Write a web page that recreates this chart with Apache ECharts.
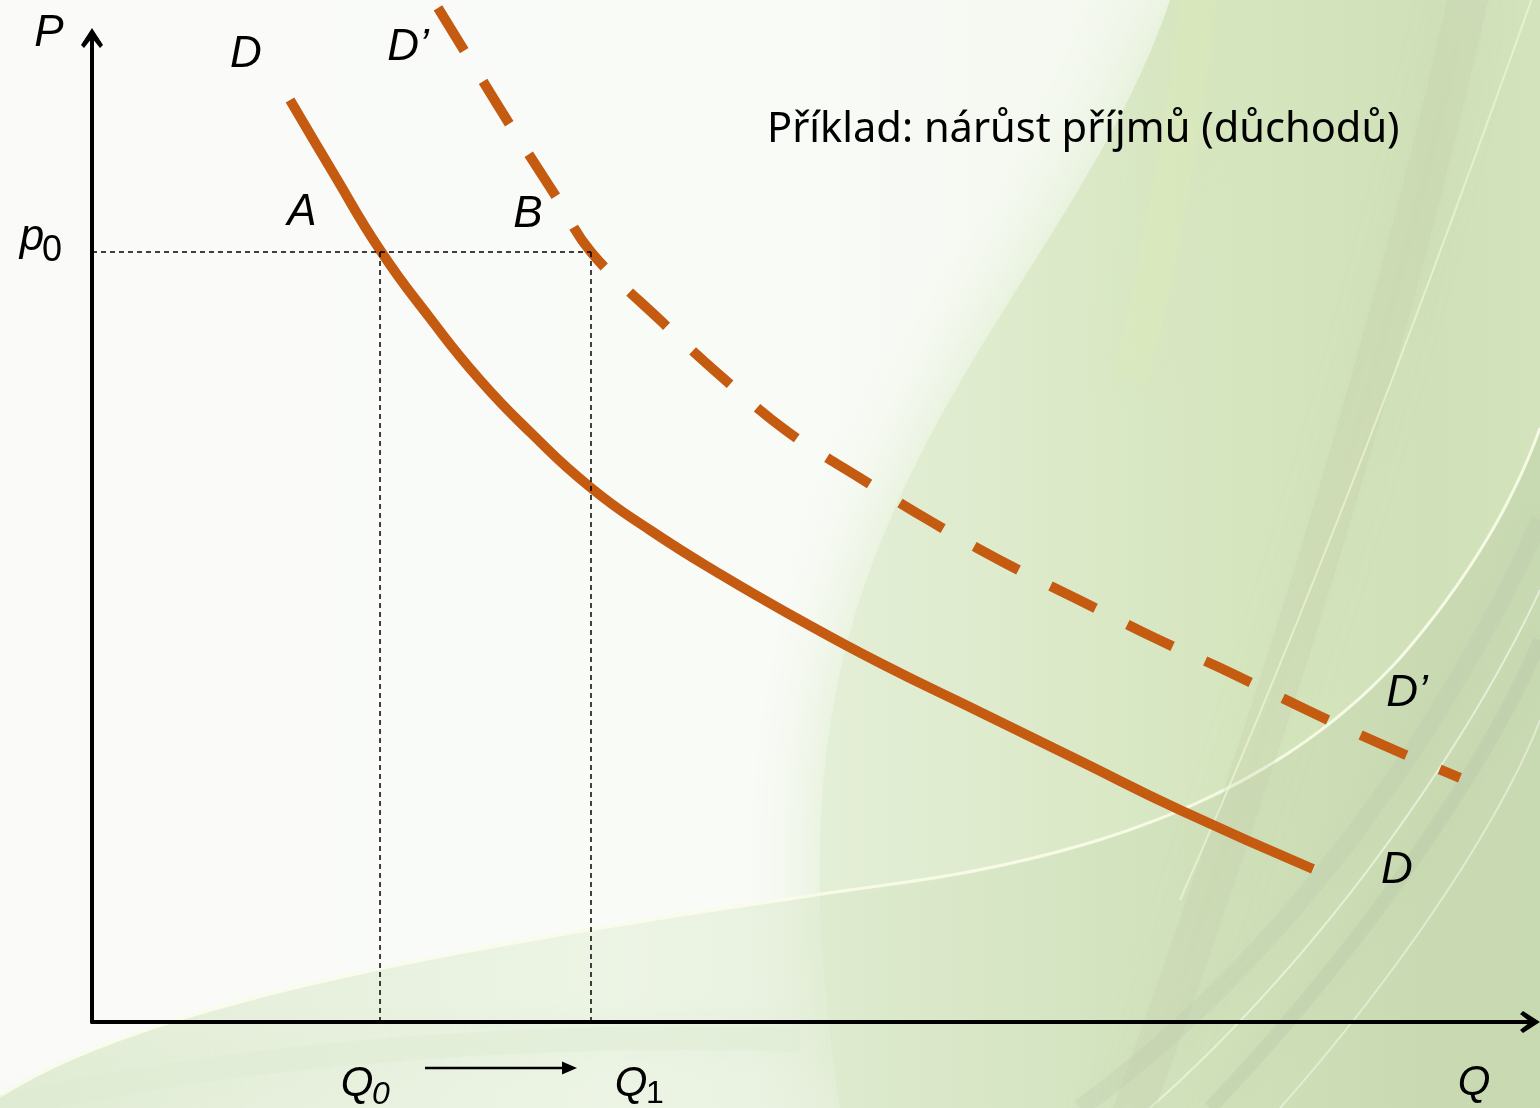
<!DOCTYPE html>
<html><head><meta charset="utf-8">
<script src="https://cdn.jsdelivr.net/npm/echarts@6/dist/echarts.min.js"></script>
<style>html,body{margin:0;padding:0;background:#fff}#c{width:1540px;height:1108px}</style>
</head><body><div id="c"></div>
<script>
// Demand curve D (quantity Q, price P)
const D_Q = [13.77, 16.90, 20.03, 23.50, 26.98, 30.46, 34.63, 38.80, 43.67, 49.24, 54.80, 61.75, 68.71, 75.66, 84.91];
const D_P = [93.70, 85.98, 78.46, 71.54, 65.24, 59.96, 54.37, 50.00, 45.53, 40.85, 36.48, 31.50, 26.52, 21.54, 15.55];
// Shifted demand curve D'
const D2_Q = [24.06, 25.94, 29.07, 32.20, 34.70, 39.64, 43.88, 48.40, 53.41, 58.41, 63.49, 68.64, 73.92, 79.21, 84.49, 89.78, 95.13];
const D2_P = [103.05, 98.58, 91.16, 84.04, 78.25, 71.14, 65.45, 59.96, 55.28, 50.81, 46.65, 42.89, 39.02, 35.47, 31.71, 28.15, 24.80];
// Reference levels
const P0 = 78.25;
const Q0 = 20.03;
const Q1 = 34.70;
const TITLE = 'Příklad: nárůst příjmů (důchodů)';

const zip = (a, b) => a.map((v, i) => [v, b[i]]);
const ORANGE = '#C55A11';
const chevron = 'path://M11,0 L22,17 L19,20 L11,10 L3,20 L0,17 Z';
const IT = 'italic 44px "Liberation Sans", Arial, sans-serif';

// sample cubic bezier segments (decorative background only)
function bez(segs, n) {
  const pts = [];
  segs.forEach(s => {
    for (let i = 0; i <= n; i++) {
      const t = i / n, u = 1 - t;
      pts.push([
        u*u*u*s[0][0] + 3*u*u*t*s[1][0] + 3*u*t*t*s[2][0] + t*t*t*s[3][0],
        u*u*u*s[0][1] + 3*u*u*t*s[1][1] + 3*u*t*t*s[2][1] + t*t*t*s[3][1]
      ]);
    }
  });
  return pts;
}

const chart = echarts.init(document.getElementById('c'), null, {renderer: 'canvas'});

function txt(x, y, text, font, align) {
  return {type: 'text', x: x, y: y, z: 100,
    style: {text: text, font: font || IT, fill: '#000', align: align || 'center', verticalAlign: 'middle'}};
}
const LG = (x2, y2, stops) => new echarts.graphic.LinearGradient(0, 0, x2, y2, stops.map(s => ({offset: s[0], color: s[1]})));

const greenEdge = bez([[[1170,0],[1110,180],[970,330],[890,520]], [[890,520],[820,680],[800,850],[840,1108]]], 30);
const swooshEdge = bez([[[0,1098],[150,1000],[500,940],[900,885]], [[900,885],[1150,850],[1300,770],[1400,660]], [[1400,660],[1470,580],[1515,500],[1540,430]]], 30);
const streak = (segs, color, w, blur) => ({type: 'polyline', z: -6, silent: true, shape: {points: bez(segs, 40), smooth: 0},
  style: {stroke: color, lineWidth: w, fill: null, lineCap: 'butt', shadowBlur: blur || 0, shadowColor: color}});

const bg = [
  {type: 'rect', z: -10, silent: true, shape: {x: 0, y: 0, width: 1540, height: 1108},
    style: {fill: LG(1, 0, [[0, '#fafbf9'], [0.5, '#f9fbf7'], [1, '#eef5e6']])}},
  {type: 'polygon', z: -9, silent: true, shape: {points: greenEdge.concat([[1540,1108],[1540,0]])},
    style: {fill: LG(1, 0, [[0, '#e4efd7'], [0.35, '#dbe9c8'], [0.6, '#d5e5bd'], [0.85, '#d0e0b8'], [1, '#d3e4bd']]),
      shadowBlur: 80, shadowColor: 'rgba(220,235,202,0.95)'}},
  {type: 'polygon', z: -8, silent: true, shape: {points: [[0,1108]].concat(swooshEdge).concat([[1540,1108]])},
    style: {fill: LG(1, 0, [[0, 'rgba(214,230,196,0.7)'], [0.4, 'rgba(224,237,210,0.5)'], [0.75, 'rgba(204,221,182,0.5)'], [1, 'rgba(194,212,172,0.65)']])}},
  streak([[[0,1096],[150,998],[500,938],[900,883]], [[900,883],[1150,848],[1300,768],[1400,658]], [[1400,658],[1470,578],[1515,498],[1540,428]]], 'rgba(250,252,232,0.9)', 3),
  streak([[[1080,1108],[1300,950],[1460,700],[1540,520]]], 'rgba(180,194,168,0.22)', 18, 25),
  streak([[[1150,1108],[1340,940],[1480,720],[1540,590]]], 'rgba(250,252,240,0.6)', 2),
  streak([[[1210,1108],[1380,930],[1500,740],[1540,640]]], 'rgba(172,186,160,0.22)', 14, 20),
  streak([[[1280,1108],[1420,950],[1510,800],[1540,720]]], 'rgba(250,252,240,0.5)', 2),
  streak([[[1470,-10],[1400,300],[1300,650],[1130,1120]]], 'rgba(190,202,168,0.22)', 40, 50),
  streak([[[1535,-10],[1460,200],[1330,560],[1180,900]]], 'rgba(245,250,215,0.6)', 2),
  streak([[[1200,-10],[1185,120],[1160,260],[1130,380]]], 'rgba(222,236,182,0.3)', 36, 40),
  streak([[[0,1108],[200,1060],[500,1030],[800,1040]]], 'rgba(222,236,210,0.45)', 24, 30)
];

const labels = [
  txt(49, 34, 'P'),
  txt(246, 55, 'D'),
  txt(408, 48, 'D\u2019'),
  txt(302, 213, 'A'),
  txt(528, 215, 'B'),
  txt(32, 238, 'p'),
  txt(52, 251, '0', '36px "Liberation Sans", Arial, sans-serif'),
  txt(357, 1084, 'Q', 'italic 42px "Liberation Sans", Arial, sans-serif'),
  txt(381, 1095, '0', 'italic 32px "Liberation Sans", Arial, sans-serif'),
  txt(631, 1084, 'Q', 'italic 42px "Liberation Sans", Arial, sans-serif'),
  txt(655, 1094, '1', '32px "Liberation Sans", Arial, sans-serif'),
  txt(1474, 1083, 'Q', 'italic 42px "Liberation Sans", Arial, sans-serif'),
  txt(1407, 694, 'D\u2019'),
  txt(1397, 871, 'D'),
  txt(767, 130, TITLE, '41.6px "Noto Sans", "Open Sans", sans-serif', 'left'),
  {type: 'line', z: 100, shape: {x1: 425, y1: 1068, x2: 566, y2: 1068}, style: {stroke: '#000', lineWidth: 2.5}},
  {type: 'polygon', z: 100, shape: {points: [[577, 1068], [562, 1061.5], [562, 1074.5]]}, style: {fill: '#000'}}
];

const guide = (data) => ({type: 'line', data: data, showSymbol: false, silent: true, z: 5,
  lineStyle: {color: '#000', width: 1.5, type: [5, 4]}});

chart.setOption({
  animation: false,
  grid: {left: 92, right: 10, top: 38, bottom: 86},
  xAxis: {type: 'value', min: 0, max: 100, splitLine: {show: false}, axisTick: {show: false}, axisLabel: {show: false},
    axisLine: {show: true, symbol: ['none', chevron], symbolSize: [22, 20], lineStyle: {color: '#000', width: 4}}},
  yAxis: {type: 'value', min: 0, max: 100, splitLine: {show: false}, axisTick: {show: false}, axisLabel: {show: false},
    axisLine: {show: true, symbol: ['none', chevron], symbolSize: [22, 20], lineStyle: {color: '#000', width: 4}}},
  graphic: bg.concat(labels),
  series: [
    {type: 'line', data: zip(D_Q, D_P), smooth: 0.5, showSymbol: false, z: 3,
      lineStyle: {color: ORANGE, width: 10, cap: 'butt'}},
    {type: 'line', data: zip(D2_Q, D2_P), smooth: 0.4, showSymbol: false, clip: false, z: 3,
      lineStyle: {color: ORANGE, width: 10, cap: 'butt', type: [50, 36]}},
    guide([[0, P0], [Q1, P0]]),
    guide([[Q0, 0], [Q0, P0]]),
    guide([[Q1, 0], [Q1, P0]])
  ]
});
</script></body></html>
